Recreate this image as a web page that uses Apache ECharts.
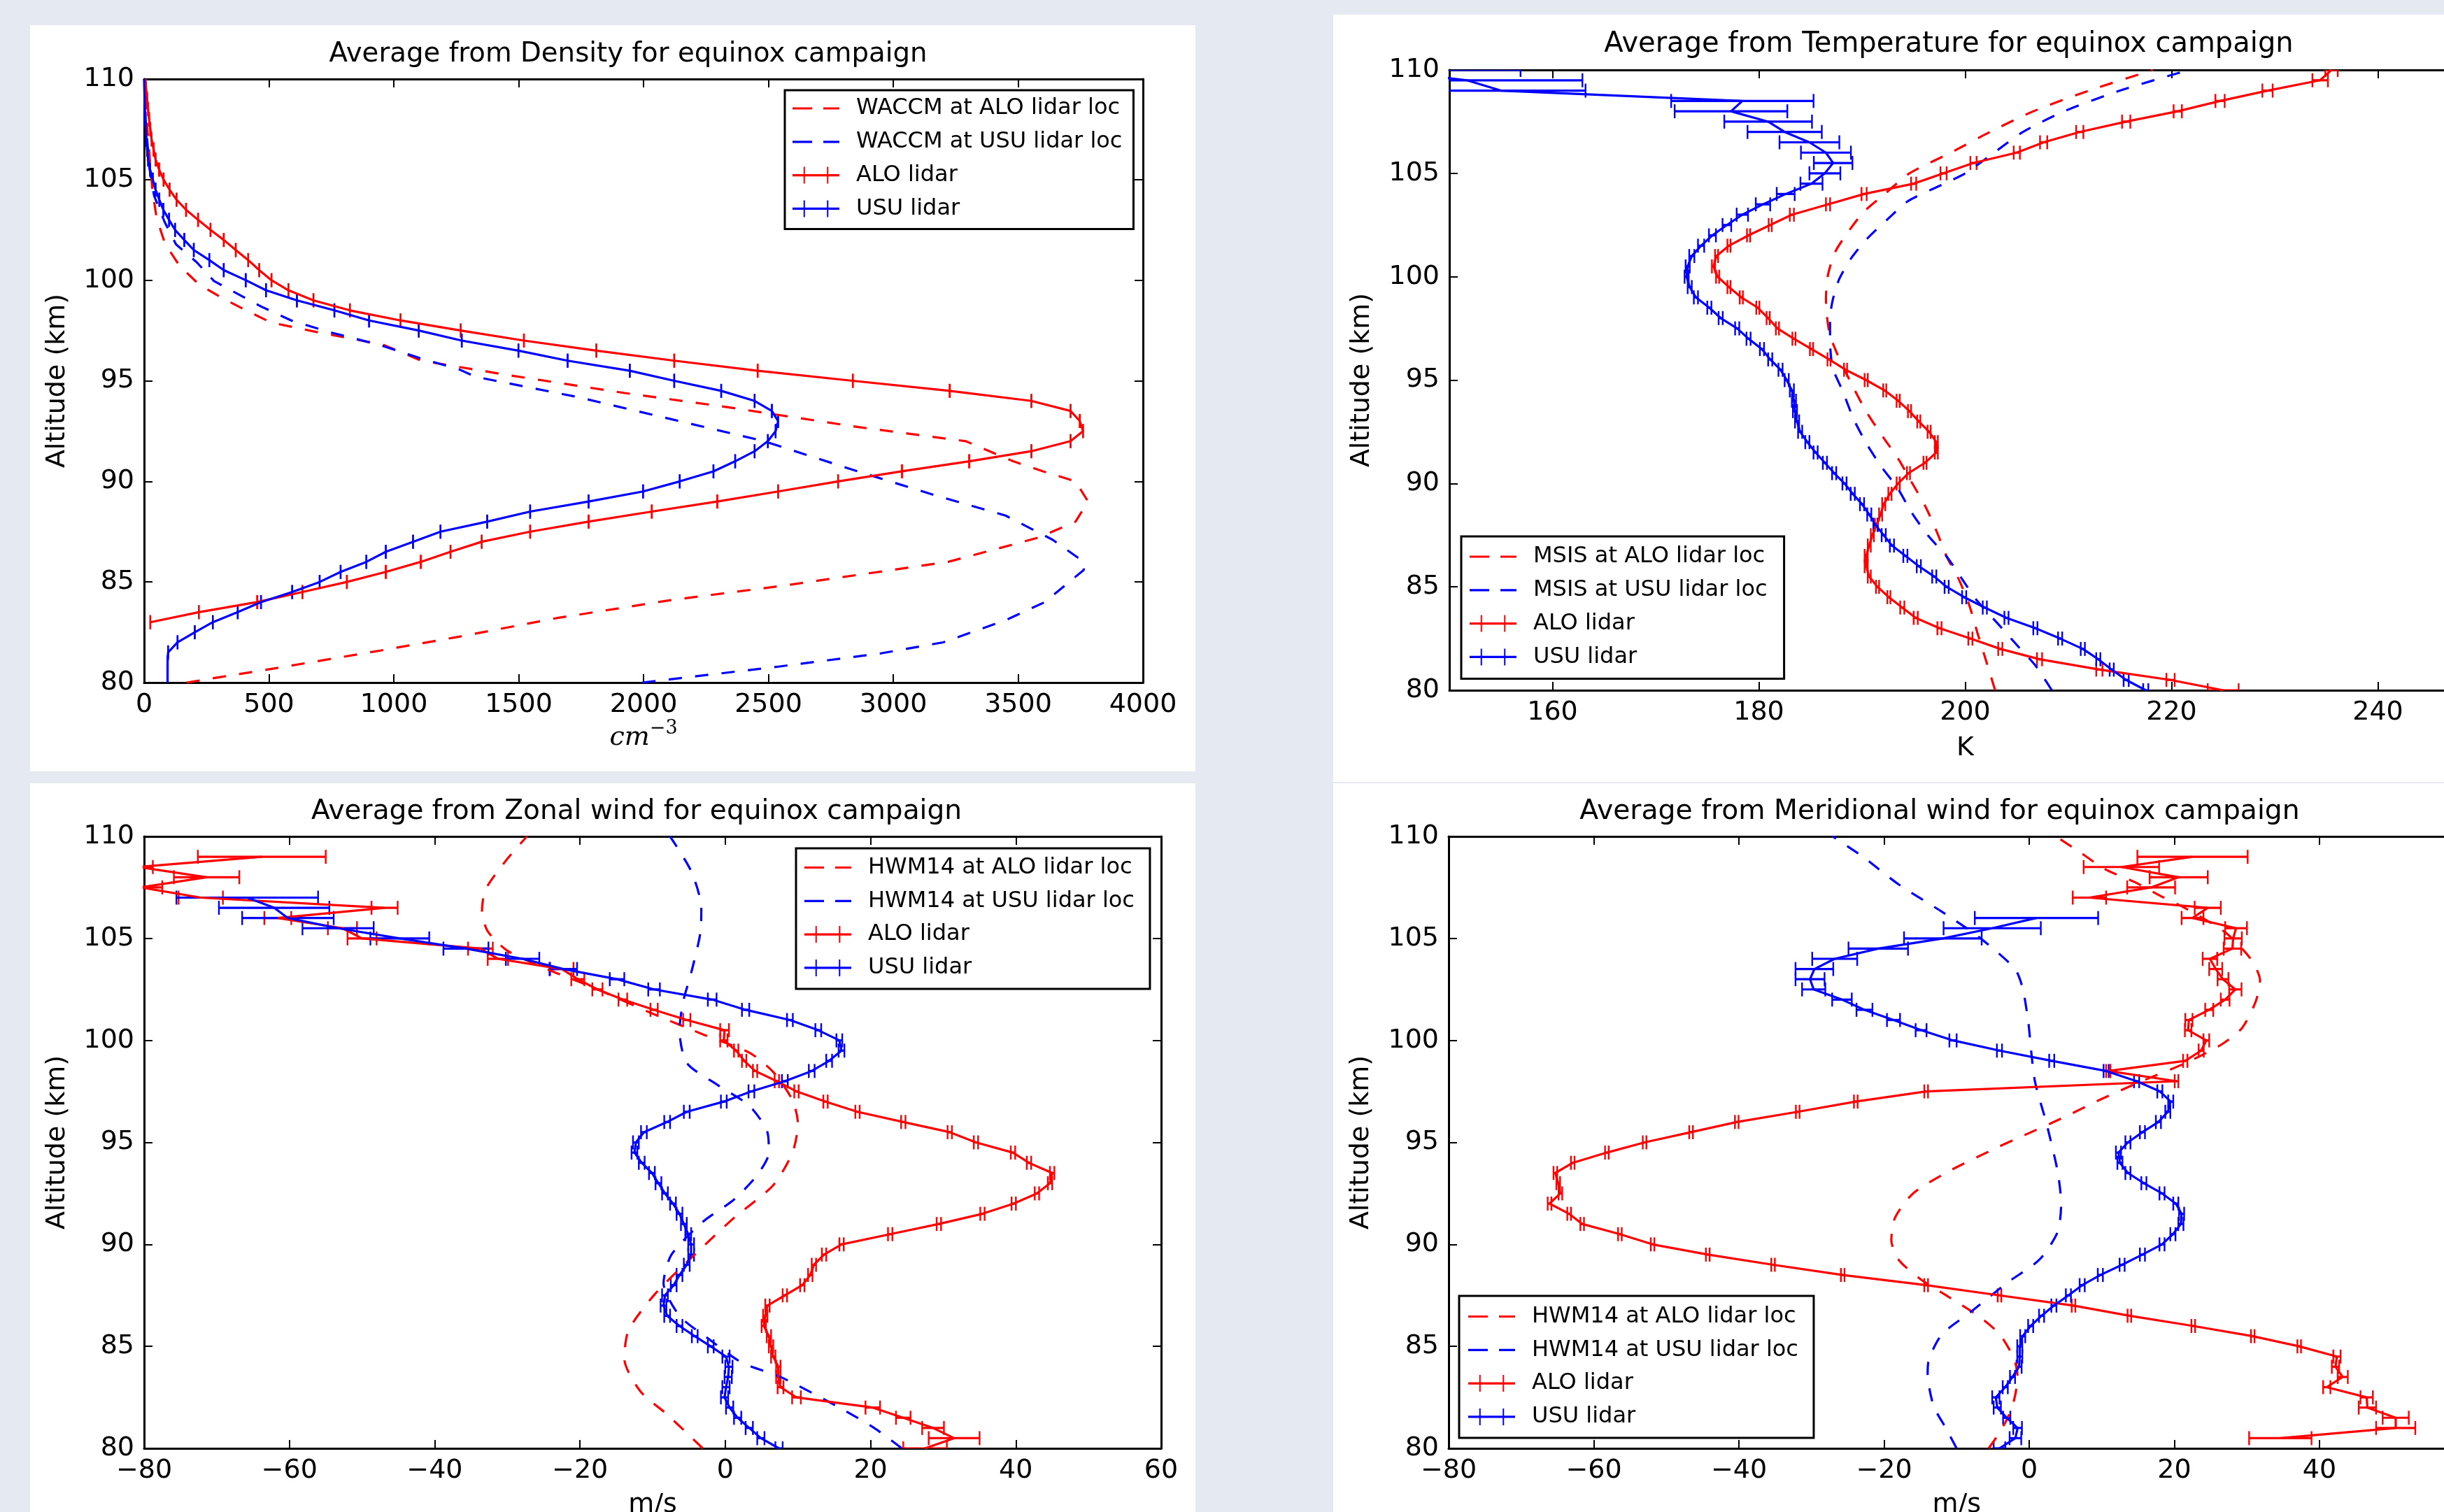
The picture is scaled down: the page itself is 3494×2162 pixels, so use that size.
<!DOCTYPE html>
<html>
<head>
<meta charset="utf-8">
<title>Average profiles for equinox campaign</title>
<script src="https://cdn.jsdelivr.net/npm/echarts@6/dist/echarts.min.js"></script>
<style>
  html, body { margin: 0; padding: 0; }
  #chart { width: 3494px; height: 2162px; }
</style>
</head>
<body>
<div id="chart"></div>
<script>
// ===== 数据 =====

/** 激光雷达高度网格（km），0.5 km 一个点 */
const lidarAlt = [
  80, 80.5, 81, 81.5, 82, 82.5, 83, 83.5, 84, 84.5,
  85, 85.5, 86, 86.5, 87, 87.5, 88, 88.5, 89, 89.5,
  90, 90.5, 91, 91.5, 92, 92.5, 93, 93.5, 94, 94.5,
  95, 95.5, 96, 96.5, 97, 97.5, 98, 98.5, 99, 99.5,
  100, 100.5, 101, 101.5, 102, 102.5, 103, 103.5, 104, 104.5,
  105, 105.5, 106, 106.5, 107, 107.5, 108, 108.5, 109, 109.5,
  110,
];

// --- 密度 (cm^-3) ---
const densAloLidar = [
  null, null, null, null, null, null, 25, 219, 453, 634,
  812, 968, 1108, 1227, 1352, 1546, 1780, 2033, 2295, 2539,
  2779, 3035, 3304, 3553, 3710, 3760, 3747, 3710, 3553, 3226,
  2838, 2457, 2123, 1811, 1521, 1268, 1027, 824, 678, 578,
  510, 461, 417, 367, 319, 266, 216, 168, 130, 102,
  78, 60, 46, 38, 30, 25, 20, 16, 12, 8,
  5,
];
const densUsuLidar = [
  94, 94, 94, 96, 134, 203, 275, 375, 468, 593,
  703, 787, 890, 968, 1077, 1187, 1374, 1546, 1780, 1998,
  2145, 2280, 2367, 2445, 2498, 2529, 2539, 2514, 2445, 2311,
  2123, 1945, 1696, 1499, 1272, 1100, 901, 762, 612, 488,
  407, 319, 261, 199, 161, 124, 100, 77, 61, 46,
  35, 24, 16, 12, 9, 7, 5, 3, 2, 1,
  0,
];
const waccmAloAlt = [80.0, 80.7, 81.6, 82.3, 83.2, 84.1, 84.8, 86.0, 87.2, 88.0, 89.0, 90.0, 90.5, 91.0, 92.0, 92.7, 93.7,
  94.4, 95.3, 96.0, 96.8, 97.4, 97.9, 98.5, 99.1, 99.8, 100.7, 101.8, 103.1, 104.4, 105.8, 108.0, 110.0];
const waccmAloVal = [170, 520, 950, 1270, 1650, 2110, 2550, 3220, 3580, 3730, 3780, 3730, 3600, 3480, 3290, 2860, 2330,
  1920, 1450, 1110, 955, 700, 507, 409, 314, 219, 143, 84, 50, 34, 24, 10, 4];
const waccmUsuAlt = [80.0, 80.8, 81.45, 82.0, 83.1, 84.0, 85.6, 86.0, 87.1, 88.3, 89.3, 90.5, 92.0, 93.1, 94.2, 95.2,
  95.56, 96.13, 96.77, 97.4, 97.99, 98.69, 99.44, 99.96, 100.9, 101.78, 102.9, 104.2, 105.6, 108.0, 110.0];
const waccmUsuVal = [1995, 2545, 2950, 3200, 3450, 3607, 3763, 3763, 3638, 3450, 3170, 2857, 2482, 2108, 1733, 1327,
  1263, 1104, 946, 749, 591, 469, 357, 280, 210, 128, 82, 40, 21, 6, 2];

// --- 温度 (K) ---
const tempAloLidar = [
  225.0, 219.9, 213.0, 207.2, 203.4, 200.5, 197.5, 195.2, 193.9, 192.6,
  191.5, 190.7, 190.4, 190.4, 190.7, 191.0, 191.4, 191.8, 192.1, 192.7,
  193.5, 194.5, 196.1, 197.2, 197.2, 196.5, 195.5, 194.6, 193.5, 192.2,
  190.4, 188.4, 186.8, 185.1, 183.4, 181.8, 180.9, 179.9, 178.3, 177.1,
  176.0, 175.6, 175.9, 177.1, 179.0, 181.1, 183.2, 186.7, 190.2, 195.0,
  197.9, 200.8, 205.0, 207.6, 211.1, 215.6, 220.6, 224.7, 229.3, 234.4,
  235.5,
];
const tempAloErr = [
  1.5, 0.4, 0.3, 0.25, 0.2, 0.2, 0.2, 0.2, 0.2, 0.15,
  0.15, 0.15, 0.15, 0.15, 0.15, 0.15, 0.15, 0.15, 0.15, 0.15,
  0.15, 0.15, 0.15, 0.15, 0.15, 0.15, 0.15, 0.15, 0.15, 0.15,
  0.15, 0.15, 0.15, 0.15, 0.15, 0.15, 0.15, 0.15, 0.15, 0.15,
  0.15, 0.15, 0.15, 0.15, 0.15, 0.15, 0.2, 0.2, 0.25, 0.25,
  0.3, 0.3, 0.3, 0.35, 0.35, 0.4, 0.4, 0.45, 0.5, 0.75,
  0.6,
];
const tempUsuLidar = [
  217.5, 215.6, 214.2, 212.9, 211.4, 209.2, 206.8, 204.0, 201.9, 199.9,
  198.2, 197.0, 195.5, 194.2, 192.9, 192.1, 191.3, 190.7, 190.0, 189.1,
  188.3, 187.3, 186.4, 185.5, 184.7, 184.0, 183.7, 183.5, 183.4, 183.2,
  182.7, 182.1, 181.1, 180.3, 179.0, 177.9, 176.3, 175.2, 173.9, 173.3,
  173.0, 173.1, 173.5, 174.4, 175.5, 176.9, 178.4, 180.4, 182.6, 185.1,
  186.4, 187.2, 186.5, 184.9, 182.5, 180.9, 177.3, 178.4, 155.0, 151.7,
  143.0,
];
const tempUsuErr = [
  0.25, 0.25, 0.2, 0.2, 0.2, 0.2, 0.2, 0.2, 0.2, 0.2,
  0.2, 0.2, 0.2, 0.2, 0.2, 0.2, 0.2, 0.2, 0.2, 0.2,
  0.2, 0.2, 0.2, 0.2, 0.2, 0.2, 0.2, 0.2, 0.2, 0.2,
  0.2, 0.2, 0.2, 0.2, 0.2, 0.2, 0.2, 0.2, 0.2, 0.2,
  0.2, 0.2, 0.25, 0.3, 0.34, 0.42, 0.55, 0.7, 0.87, 1.07,
  1.5, 1.87, 2.42, 2.9, 3.6, 4.25, 5.46, 6.9, 8.2, 11.2,
  13.9,
];
const msisAloAlt = [80, 81.3, 82.75, 84.1, 85.34, 86.47, 87.6, 88.83, 90.07, 91.2, 92.2, 93.4, 94.6, 95.5, 96.26,
  97.16, 98.07, 98.96, 100.09, 101.2, 102.06, 103.1, 104.0, 105.0, 106.0, 107.0, 108.0, 109.0, 110.0];
const msisAloVal = [202.9, 202.1, 201.2, 200.4, 199.4, 198.2, 197.3, 196.2, 194.8, 193.5, 192.1, 190.5, 189.2, 188.3,
  187.6, 186.9, 186.6, 186.5, 186.7, 187.4, 188.5, 190.1, 192.2, 194.6, 198.6, 202.4, 206.6, 212.0, 218.2];
const msisUsuAlt = [80, 81.2, 82.08, 83.2, 84.3, 85.45, 86.47, 87.48, 88.6, 89.73, 90.8, 91.87, 93.1, 94.5, 95.6,
  96.94, 97.95, 98.85, 99.9, 100.93, 101.84, 102.79, 103.67, 104.46, 105.0, 106.0, 107.0, 108.0, 109.0, 110.0];
const msisUsuVal = [208.4, 206.8, 205.2, 203.2, 201.2, 199.6, 198.2, 196.4, 194.8, 193.5, 191.9, 190.5, 189.2, 188.1,
  187.15, 186.9, 186.9, 187.15, 187.8, 189.0, 190.5, 192.5, 194.5, 197.8, 200.0, 202.8, 205.6, 209.6, 215.0, 221.7];
const tempTicks = [160, 180, 200, 220, 240];

// --- 纬向风 (m/s) ---
const zonAloLidar = [
  27.5, 31.5, 28.6, 24.5, 20.3, 9.8, 7.6, 7.3, 7.3, 6.6,
  6.3, 6.0, 5.3, 5.5, 5.8, 8.2, 10.6, 11.7, 12.2, 13.6,
  16.0, 22.7, 29.4, 35.4, 39.7, 42.9, 44.7, 45.0, 41.8, 39.6,
  34.5, 30.9, 24.5, 18.2, 13.8, 9.8, 7.1, 4.1, 2.6, 1.5,
  -0.2, -0.1, -5.3, -9.8, -14.1, -17.6, -20.3, -22.5, -31.3, -33.7,
  -50.0, -52.7, -61.6, -46.9, -72.2, -80.5, -71.4, -80.8, -63.8, null,
  null,
];
const zonAloErr = [
  3.0, 3.5, 1.5, 1.0, 1.0, 0.6, 0.4, 0.3, 0.3, 0.3,
  0.3, 0.3, 0.3, 0.3, 0.3, 0.3, 0.3, 0.3, 0.3, 0.3,
  0.3, 0.3, 0.3, 0.3, 0.3, 0.3, 0.3, 0.3, 0.3, 0.3,
  0.3, 0.3, 0.3, 0.3, 0.3, 0.3, 0.3, 0.3, 0.3, 0.3,
  0.5, 0.6, 0.5, 0.5, 0.6, 0.7, 0.9, 1.6, 1.4, 1.7,
  2.0, 2.0, 1.85, 1.8, 3.05, 3.0, 4.5, 2.0, 8.8, null,
  null,
];
const zonUsuLidar = [
  7.4, 4.9, 3.3, 1.7, 0.6, -0.1, 0.1, 0.4, 0.5, 0.1,
  -2.0, -4.2, -6.3, -8.0, -8.5, -8.3, -7.1, -6.3, -5.3, -4.7,
  -4.7, -5.1, -5.7, -6.3, -7.2, -8.3, -9.2, -10.1, -11.5, -12.5,
  -12.3, -11.2, -8.0, -5.3, -0.2, 3.6, 8.2, 11.9, 14.3, 16.0,
  15.7, 12.8, 8.9, 2.8, -1.8, -9.8, -14.9, -22.3, -27.9, -35.7,
  -44.8, -53.3, -60.2, -62.1, -65.8, null, null, null, null, null,
  null,
];
const zonUsuErr = [
  0.5, 0.5, 0.5, 0.5, 0.5, 0.5, 0.5, 0.5, 0.5, 0.5,
  0.4, 0.4, 0.4, 0.4, 0.4, 0.4, 0.4, 0.4, 0.4, 0.4,
  0.4, 0.4, 0.4, 0.4, 0.4, 0.4, 0.4, 0.4, 0.4, 0.4,
  0.4, 0.4, 0.4, 0.4, 0.4, 0.4, 0.4, 0.4, 0.4, 0.4,
  0.4, 0.4, 0.4, 0.5, 0.6, 0.8, 1.0, 1.9, 2.3, 3.1,
  4.05, 4.9, 6.3, 7.6, 9.75, null, null, null, null, null,
  null,
];
const hwmZonAloAlt = [80.0, 81.66, 82.8, 84.4, 85.8, 87.6, 89.5, 91.3, 92.9, 94.5, 95.9, 97.07, 98.45, 99.4, 100.3,
  101.4, 102.6, 103.5, 104.4, 105.35, 106.3, 107.4, 108.9, 110.0];
const hwmZonAloVal = [-3.1, -8.0, -11.7, -13.9, -13.3, -9.6, -4.2, 1.2, 6.6, 9.25, 10.0, 9.25, 6.6, 3.3, -3.1,
  -10.6, -18.2, -24.6, -30.0, -32.7, -33.5, -33.0, -30.0, -27.3];
const hwmZonUsuAlt = [80.0, 81.0, 82.1, 83.5, 84.2, 85.45, 86.5, 88.1, 89.5, 91.1, 92.2, 93.4, 94.5, 95.5, 96.8,
  97.8, 98.9, 100.5, 101.9, 103.3, 105.35, 106.5, 108.3, 110.0];
const hwmZonUsuVal = [24.3, 20.5, 15.2, 7.6, 2.3, -2.6, -6.3, -8.5, -7.4, -3.1, 1.2, 4.4, 6.0, 5.8, 3.3,
  -1.0, -5.3, -6.3, -5.8, -4.7, -3.4, -3.3, -4.7, -7.6];

// --- 经向风 (m/s) ---
const merAloLidar = [
  null, 34.6, 50.5, 50.5, 46.6, 46.5, 41.0, 43.2, 42.2, 42.4,
  37.2, 30.8, 22.6, 13.8, 6.1, -4.1, -14.2, -25.7, -35.3, -44.3,
  -51.9, -56.4, -61.6, -63.4, -66.1, -64.6, -64.9, -65.3, -62.9, -58.2,
  -53.0, -46.6, -40.3, -31.9, -23.9, -14.2, 20.3, 10.9, 21.5, 23.7,
  24.4, 21.9, 22.0, 24.8, 27.0, 28.4, 26.7, 25.7, 24.9, 28.0,
  28.1, 28.5, 22.5, 24.6, 8.3, 16.8, 20.6, 12.7, 22.5, null,
  null,
];
const merAloErr = [
  null, 4.3, 2.7, 1.8, 1.2, 0.85, 0.5, 0.7, 0.5, 0.5,
  0.25, 0.25, 0.25, 0.25, 0.25, 0.25, 0.25, 0.25, 0.25, 0.25,
  0.25, 0.25, 0.25, 0.25, 0.25, 0.25, 0.25, 0.25, 0.25, 0.25,
  0.25, 0.25, 0.25, 0.25, 0.25, 0.25, 0.25, 0.3, 0.3, 0.35,
  0.4, 0.45, 0.5, 0.55, 0.6, 0.85, 0.75, 0.9, 1.0, 1.2,
  1.2, 1.5, 1.5, 1.8, 2.3, 3.3, 4.0, 5.2, 7.6, null,
  null,
];
const merUsuLidar = [
  -4.1, -1.9, -1.6, -3.1, -4.4, -4.6, -3.3, -2.3, -1.4, -1.3,
  -1.3, -0.9, 0.2, 1.7, 3.4, 5.4, 7.3, 9.8, 12.8, 15.6,
  18.3, 19.8, 20.9, 21.0, 20.2, 18.3, 15.8, 13.6, 12.5, 12.3,
  13.6, 15.6, 17.8, 19.1, 19.5, 18.0, 14.8, 10.6, 3.1, -4.1,
  -10.5, -14.9, -18.7, -22.7, -25.8, -29.7, -30.2, -29.6, -26.8, -20.8,
  -11.9, -5.1, 1.0, null, null, null, null, null, null, null,
  null,
];
const merUsuErr = [
  0.8, 0.8, 0.6, 0.5, 0.5, 0.5, 0.35, 0.35, 0.35, 0.35,
  0.35, 0.35, 0.35, 0.35, 0.35, 0.35, 0.35, 0.35, 0.35, 0.35,
  0.35, 0.35, 0.35, 0.35, 0.35, 0.35, 0.35, 0.35, 0.35, 0.35,
  0.35, 0.35, 0.35, 0.35, 0.35, 0.35, 0.35, 0.35, 0.35, 0.35,
  0.5, 0.75, 0.9, 1.1, 1.35, 1.6, 2.0, 2.6, 3.1, 4.1,
  5.35, 6.7, 8.5, null, null, null, null, null, null, null,
  null,
];
const hwmMerAloAlt = [80.0, 80.5, 81.4, 82.35, 83.5, 84.4, 85.6, 86.5, 87.4, 88.3, 89.25, 90.2, 91.3, 92.5, 93.6,
  94.8, 95.3, 96.2, 97.1, 98.0, 98.9, 99.8, 100.6, 101.9, 102.95, 104.0, 105.3, 106.5, 107.1, 107.75, 108.4, 109.2, 110.0];
const hwmMerAloVal = [-5.6, -4.6, -3.1, -2.1, -1.6, -2.1, -4.1, -7.05, -11.0, -15.0, -18.0, -19.0, -18.5, -16.0, -11.0,
  -4.1, -1.0, 4.6, 9.8, 15.5, 21.6, 26.5, 29.3, 31.2, 31.8, 30.5, 27.0, 21.4, 18.0, 14.6, 10.4, 7.1, 3.7];
const hwmMerUsuAlt = [80.0, 81.0, 82.1, 83.7, 84.4, 85.6, 86.7, 88.1, 89.25, 90.6, 92.0, 93.6, 95.9, 97.97, 99.57,
  100.83, 102.55, 103.52, 105.1, 106.3, 107.65, 109.0, 110.0];
const hwmMerUsuVal = [-10.0, -11.5, -13.2, -14.0, -13.8, -12.0, -8.0, -3.1, 1.4, 3.9, 4.4, 3.9, 2.4, 0.8, 0.24,
  -0.1, -0.9, -2.0, -7.05, -12.0, -18.0, -22.9, -27.1];

// ===== 样式常量 =====
const FONT = 'DejaVu Sans';
const RED = '#ff0000';
const BLUE = '#0000ff';
const LINE_W = 3.2;
const DASH = [19, 19];
// 图例图标（67x30 盒子，角上的小点用来固定包围盒）
const BOX_PTS = ' M0,0H0.01V0.01H0Z M66.99,29.99H67V30H66.99Z';
const ICON_DASH = 'path://M0,13.4H28V16.6H0Z M44,13.4H67V16.6H44Z' + BOX_PTS;
const ICON_ERRBAR = 'path://M0,13.4H67V16.6H0Z M15.75,3H17.75V27H15.75Z M49.25,3H51.25V27H49.25Z' + BOX_PTS;

const textBase = { fontFamily: FONT, fontSize: 38, color: '#000' };

// ===== 四个子图的版式 =====
const panels = [
  {
    title: 'Average from Density for equinox campaign', titleAt: [898, 78], titleSize: 38.7,
    bg: [43, 36, 1666, 1067],
    grid: { left: 206, top: 113, width: 1428, height: 863 },
    x: { min: 0, max: 4000, interval: 500 },
    xName: '{i|cm}{s|\u22123}', xNameGap: 52, yNameGap: 105,
    legendBox: { left: 1122, top: 129, padding: [10, 16, 13, 11] },
    models: [
      { name: 'WACCM at ALO lidar loc', color: RED, alt: waccmAloAlt, val: waccmAloVal, smooth: false },
      { name: 'WACCM at USU lidar loc', color: BLUE, alt: waccmUsuAlt, val: waccmUsuVal, smooth: false },
    ],
    lidars: [
      { name: 'ALO lidar', color: RED, val: densAloLidar, err: null },   // 误差比线宽还小，只剩端帽
      { name: 'USU lidar', color: BLUE, val: densUsuLidar, err: null },
    ],
  },
  {
    title: 'Average from Temperature for equinox campaign', titleAt: [2786, 64], titleSize: 40,
    bg: [1906, 21, 1588, 1097],
    grid: { left: 2072, top: 100, width: 1475, height: 887 },
    x: { min: 150, max: 250, ticks: tempTicks },
    xName: 'K', xNameGap: 64, yNameGap: 106,
    legendBox: { left: 2089, top: 767, padding: [13, 24, 15, 12] },
    models: [
      { name: 'MSIS at ALO lidar loc', color: RED, alt: msisAloAlt, val: msisAloVal, smooth: 0.25 },
      { name: 'MSIS at USU lidar loc', color: BLUE, alt: msisUsuAlt, val: msisUsuVal, smooth: 0.25 },
    ],
    lidars: [
      { name: 'ALO lidar', color: RED, val: tempAloLidar, err: tempAloErr },
      { name: 'USU lidar', color: BLUE, val: tempUsuLidar, err: tempUsuErr },
    ],
  },
  {
    title: 'Average from Zonal wind for equinox campaign', titleAt: [910, 1161], titleSize: 39.1,
    bg: [43, 1120, 1666, 1042],
    grid: { left: 206, top: 1196, width: 1454, height: 875 },
    x: { min: -80, max: 60, interval: 20 },
    xName: 'm/s', xNameGap: 62, yNameGap: 105,
    legendBox: { left: 1138, top: 1213, padding: [11.5, 22, 14, 12] },
    models: [
      { name: 'HWM14 at ALO lidar loc', color: RED, alt: hwmZonAloAlt, val: hwmZonAloVal, smooth: 0.25 },
      { name: 'HWM14 at USU lidar loc', color: BLUE, alt: hwmZonUsuAlt, val: hwmZonUsuVal, smooth: 0.25 },
    ],
    lidars: [
      { name: 'ALO lidar', color: RED, val: zonAloLidar, err: zonAloErr },
      { name: 'USU lidar', color: BLUE, val: zonUsuLidar, err: zonUsuErr },
    ],
  },
  {
    title: 'Average from Meridional wind for equinox campaign', titleAt: [2773, 1161], titleSize: 39.3,
    bg: [1906, 1120, 1588, 1042],
    grid: { left: 2071, top: 1196, width: 1452.5, height: 875 },
    x: { min: -80, max: 60, interval: 20 },
    xName: 'm/s', xNameGap: 62, yNameGap: 106,
    legendBox: { left: 2086, top: 1853, padding: [13.5, 22, 14, 13] },
    models: [
      { name: 'HWM14 at ALO lidar loc', color: RED, alt: hwmMerAloAlt, val: hwmMerAloVal, smooth: 0.25 },
      { name: 'HWM14 at USU lidar loc', color: BLUE, alt: hwmMerUsuAlt, val: hwmMerUsuVal, smooth: 0.25 },
    ],
    lidars: [
      { name: 'ALO lidar', color: RED, val: merAloLidar, err: merAloErr },
      { name: 'USU lidar', color: BLUE, val: merUsuLidar, err: merUsuErr },
    ],
  },
];

// ===== 工具函数 =====

/** 负号用 U+2212，与 matplotlib 一致 */
function minusFmt(v) {
  return String(v).replace('-', '\u2212');
}

/** (alt, value) -> [value, alt]，跳过缺测 */
function toPairs(alt, vals) {
  const out = [];
  vals.forEach((v, i) => { if (v != null) out.push([v, alt[i]]); });
  return out;
}

/** 误差棒数据 [value, alt, err] */
function toErrData(alt, vals, errs) {
  const out = [];
  vals.forEach((v, i) => {
    if (v != null) out.push([v, alt[i], errs && errs[i] != null ? errs[i] : 0]);
  });
  return out;
}

/** 误差棒：水平线 + 两端竖直端帽 */
function renderErrorBar(params, api) {
  const v = api.value(0);
  const alt = api.value(1);
  const err = api.value(2) || 0;
  const lo = api.coord([v - err, alt]);
  const hi = api.coord([v + err, alt]);
  const color = api.visual('color');
  const cap = 10;
  return {
    type: 'group',
    children: [
      { type: 'line', shape: { x1: lo[0], y1: lo[1], x2: hi[0], y2: hi[1] }, style: { stroke: color, lineWidth: LINE_W } },
      { type: 'line', shape: { x1: lo[0], y1: lo[1] - cap, x2: lo[0], y2: lo[1] + cap }, style: { stroke: color, lineWidth: 2.4 } },
      { type: 'line', shape: { x1: hi[0], y1: hi[1] - cap, x2: hi[0], y2: hi[1] + cap }, style: { stroke: color, lineWidth: 2.4 } },
    ],
  };
}

/** 刻度朝内，四边都有 */
function tickOpt(custom) {
  const t = { show: true, inside: true, length: 12, lineStyle: { color: '#000', width: 2 } };
  if (custom) t.customValues = custom;
  return t;
}

const axisLineOpt = { show: true, onZero: false, lineStyle: { color: '#000', width: 3 } };

/** 每个子图四条轴：下/上 x，左/右 y */
function buildAxes(p, i) {
  const xBase = {
    type: 'value', gridIndex: i, min: p.x.min, max: p.x.max,
    splitLine: { show: false }, axisLine: axisLineOpt, nameMoveOverlap: false,
  };
  if (!p.x.ticks) xBase.interval = p.x.interval;

  const xLabel = Object.assign({ show: true, margin: 13, formatter: minusFmt }, textBase);
  if (p.x.ticks) xLabel.customValues = p.x.ticks;

  const xNameStyle = i === 0
    ? {
        fontFamily: 'DejaVu Serif', fontSize: 38, color: '#000',
        rich: {
          i: { fontFamily: 'DejaVu Serif', fontStyle: 'italic', fontSize: 38, lineHeight: 54, color: '#000' },
          s: { fontFamily: 'DejaVu Serif', fontSize: 27, lineHeight: 27, verticalAlign: 'top', color: '#000' },
        },
      }
    : textBase;

  const xBottom = Object.assign({}, xBase, {
    position: 'bottom', axisTick: tickOpt(p.x.ticks), axisLabel: xLabel,
    name: p.xName, nameLocation: 'middle', nameGap: p.xNameGap, nameTextStyle: xNameStyle,
  });
  const xTop = Object.assign({}, xBase, { position: 'top', axisTick: tickOpt(p.x.ticks), axisLabel: { show: false } });

  const yBase = {
    type: 'value', gridIndex: i, min: 80, max: 110, interval: 5,
    splitLine: { show: false }, axisLine: axisLineOpt, nameMoveOverlap: false,
  };
  const yLeft = Object.assign({}, yBase, {
    position: 'left', axisTick: tickOpt(), axisLabel: Object.assign({ show: true, margin: 14 }, textBase),
    name: 'Altitude (km)', nameLocation: 'middle', nameRotate: 90, nameGap: p.yNameGap, nameTextStyle: textBase,
  });
  const yRight = Object.assign({}, yBase, { position: 'right', axisTick: tickOpt(), axisLabel: { show: false } });

  return { x: [xBottom, xTop], y: [yLeft, yRight] };
}

/** 子图的全部序列：两条模式虚线 + 两条激光雷达（折线 + 误差棒） */
function buildSeries(p, i) {
  const axisRef = { xAxisIndex: 2 * i, yAxisIndex: 2 * i };
  const list = [];
  p.models.forEach(m => {
    list.push(Object.assign({
      type: 'line', name: m.name, data: toPairs(m.alt, m.val), symbol: 'none', smooth: m.smooth,
      lineStyle: { color: m.color, width: LINE_W, type: DASH }, itemStyle: { color: m.color },
      clip: true, silent: true,
    }, axisRef));
  });
  p.lidars.forEach(l => {
    list.push(Object.assign({
      type: 'line', name: l.name, data: toPairs(lidarAlt, l.val), symbol: 'none',
      lineStyle: { color: l.color, width: LINE_W }, itemStyle: { color: l.color },
      clip: true, silent: true,
    }, axisRef));
    list.push(Object.assign({
      type: 'custom', name: l.name, data: toErrData(lidarAlt, l.val, l.err),
      encode: { x: 0, y: 1 }, renderItem: renderErrorBar, itemStyle: { color: l.color },
      clip: true, silent: true,
    }, axisRef));
  });
  return list;
}

// ===== 组装 option =====
const xAxes = [];
const yAxes = [];
let allSeries = [];
panels.forEach((p, i) => {
  const ax = buildAxes(p, i);
  xAxes.push(...ax.x);
  yAxes.push(...ax.y);
  allSeries = allSeries.concat(buildSeries(p, i));
});

const option = {
  animation: false,
  backgroundColor: '#e5eaf2',
  graphic: panels.map(p => ({
    type: 'rect', z: -10, silent: true,
    shape: { x: p.bg[0], y: p.bg[1], width: p.bg[2], height: p.bg[3] },
    style: { fill: '#ffffff' },
  })),
  title: panels.map(p => ({
    text: p.title, left: p.titleAt[0], top: p.titleAt[1], padding: 0,
    textAlign: 'center', textVerticalAlign: 'middle',
    textStyle: { fontFamily: FONT, fontSize: p.titleSize, fontWeight: 'normal', color: '#000' },
  })),
  legend: panels.map(p => ({
    orient: 'vertical', left: p.legendBox.left, top: p.legendBox.top, padding: p.legendBox.padding,
    itemWidth: 67, itemHeight: 30, itemGap: 15.8, selectedMode: false,
    backgroundColor: '#ffffff', borderColor: '#000', borderWidth: 3, borderRadius: 0,
    itemStyle: { borderWidth: 0 },
    textStyle: { fontFamily: FONT, fontSize: 32, color: '#000', lineHeight: 30, padding: [0, 0, 0, 19] },
    data: p.models.map(m => ({ name: m.name, icon: ICON_DASH }))
      .concat(p.lidars.map(l => ({ name: l.name, icon: ICON_ERRBAR }))),
  })),
  grid: panels.map(p => Object.assign({ containLabel: false, outerBoundsMode: 'none' }, p.grid)),
  xAxis: xAxes,
  yAxis: yAxes,
  series: allSeries,
};

const chart = echarts.init(document.getElementById('chart'));
chart.setOption(option);
</script>
</body>
</html>
